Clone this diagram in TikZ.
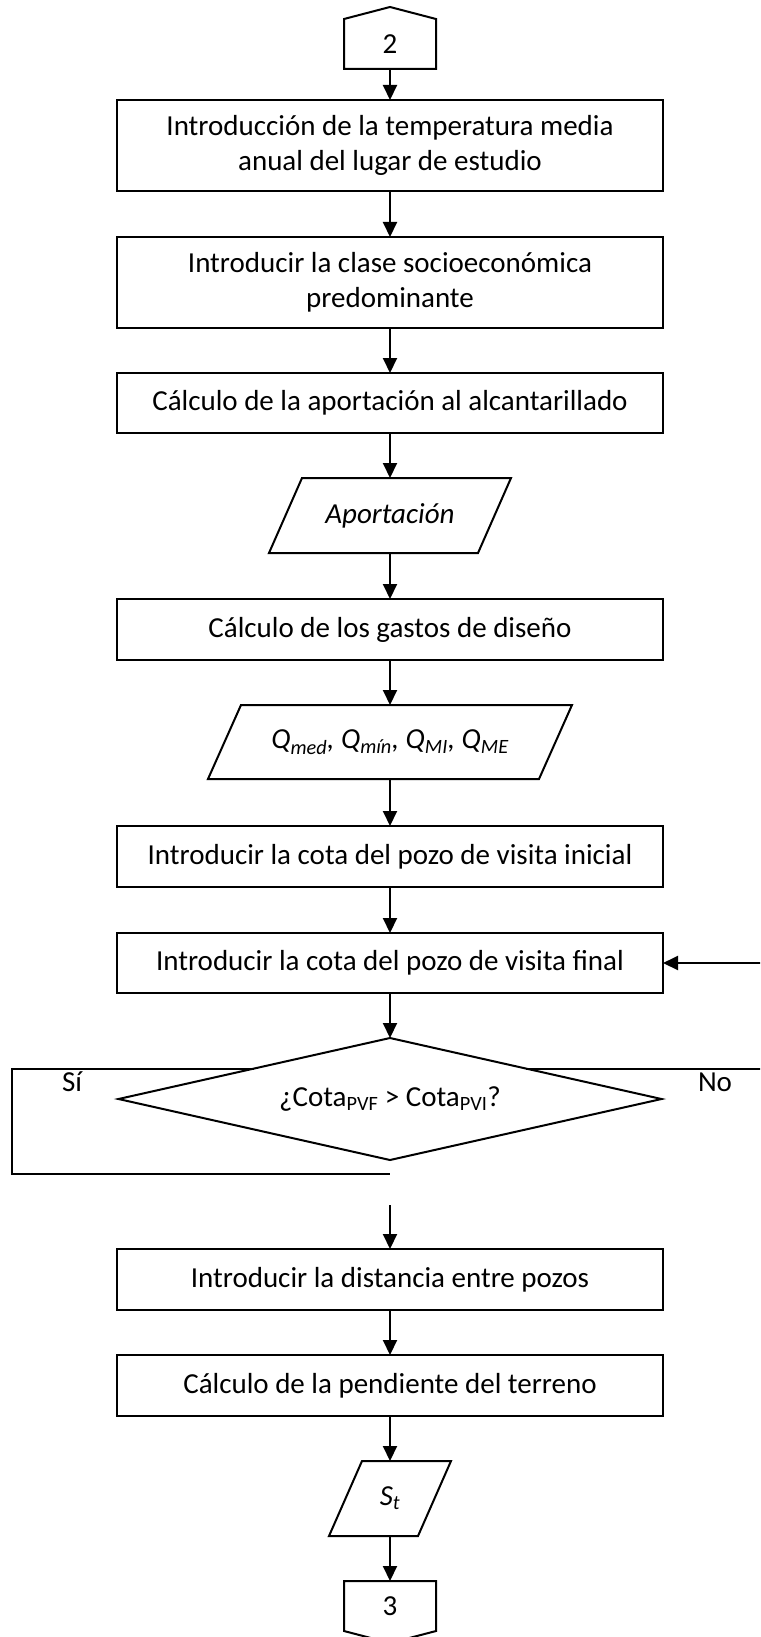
\documentclass[tikz,border=0pt]{standalone}
\usepackage{fontspec}
\setmainfont{Carlito}
\usetikzlibrary{shapes.geometric,arrows.meta}
\newcommand\drawpara[1]{\draw[shp] ([xshift=-16.5pt]#1.south west) -- ([xshift=16.5pt]#1.north west) -- ([xshift=16.5pt]#1.north east) -- ([xshift=-16.5pt]#1.south east) -- cycle;}
\begin{document}
\begin{tikzpicture}[x=1pt,y=-1pt,
  every node/.style={font=\fontsize{29}{35.5}\selectfont, inner sep=0pt, outer sep=0pt},
  proc/.style={draw, line width=2pt, minimum width=546pt, align=center},
  txtbox/.style={align=center},
  conn/.style={line width=2pt, line join=miter},
  arr/.style={line width=2pt, line join=miter, -{Triangle[width=14pt,length=15pt]}},
  shp/.style={line width=2pt, line join=miter}]
\useasboundingbox (0,0) rectangle (760,1637);
\fill[white] (0,0) rectangle (760,1637);
\clip (0,0) rectangle (760,1637);

% off-page connector 2
\node[minimum width=92pt, minimum height=50pt] (c2) at (390,44) {2};
\draw[shp] (c2.south west) -- (c2.north west) -- ([yshift=12pt]c2.north) -- (c2.north east) -- (c2.south east) -- cycle;

\node[proc, minimum height=91pt] (b1) at (390,145.5) {Introducción de la temperatura media\\anual del lugar de estudio};
\node[proc, minimum height=91pt] (b2) at (390,282.5) {Introducir la clase socioeconómica\\predominante};
\node[proc, minimum height=60pt] (b3) at (390,403) {Cálculo de la aportación al alcantarillado};

\node[txtbox, minimum width=209pt, minimum height=75pt] (p1) at (390,515.5) {\itshape Aportación};
\drawpara{p1}

\node[proc, minimum height=61pt] (b4) at (390,629.5) {Cálculo de los gastos de diseño};

\node[txtbox, minimum width=331pt, minimum height=74pt] (p2) at (390,742) {\itshape Q\textsubscript{med}, Q\textsubscript{mín}, Q\textsubscript{MI}, Q\textsubscript{ME}};
\drawpara{p2}

\node[proc, minimum height=61pt] (b5) at (390,856.5) {Introducir la cota del pozo de visita inicial};
\node[proc, minimum height=60pt] (b6) at (390,963) {Introducir la cota del pozo de visita final};

\node[diamond, draw, line width=2pt, aspect=4.45, minimum width=543pt, minimum height=122pt] (d) at (390,1099) {¿Cota\textsubscript{PVF} > Cota\textsubscript{PVI}?};

\node[anchor=base west] (si) at (62,1091) {Sí};
\node[anchor=base west] (no) at (698,1091) {No};

\node[proc, minimum height=61pt] (b7) at (390,1279.5) {Introducir la distancia entre pozos};
\node[proc, minimum height=61pt] (b8) at (390,1385.5) {Cálculo de la pendiente del terreno};

\node[txtbox, minimum width=89pt, minimum height=75pt] (p3) at (390,1498.5) {\itshape S\textsubscript{t}};
\drawpara{p3}

% off-page connector 3
\node[minimum width=92pt, minimum height=50pt] (c3) at (390,1606) {3};
\draw[shp] (c3.north west) -- (c3.north east) -- (c3.south east) -- ([yshift=-12pt]c3.south) -- (c3.south west) -- cycle;

% connectors
\draw[arr] (c2.south) -- (b1.north);
\draw[arr] (b1.south) -- (b2.north);
\draw[arr] (b2.south) -- (b3.north);
\draw[arr] (b3.south) -- (p1.north);
\draw[arr] (p1.south) -- (b4.north);
\draw[arr] (b4.south) -- (p2.north);
\draw[arr] (p2.south) -- (b5.north);
\draw[arr] (b5.south) -- (b6.north);
\draw[arr] (b6.south) -- (d.north);

\coordinate (lx) at (12,0);
\coordinate (lend) at (390,1174);
\draw[conn] (d.north west) -- (d.north west -| lx) |- (lend);
\coordinate (rx) at (790,0);
\draw[arr] (d.north east) -- (d.north east -| rx) |- (b6.east);

\coordinate (fa) at (390,1205);
\draw[arr] (fa) -- (b7.north);
\draw[arr] (b7.south) -- (b8.north);
\draw[arr] (b8.south) -- (p3.north);
\draw[arr] (p3.south) -- (c3.north);
\end{tikzpicture}
\end{document}
